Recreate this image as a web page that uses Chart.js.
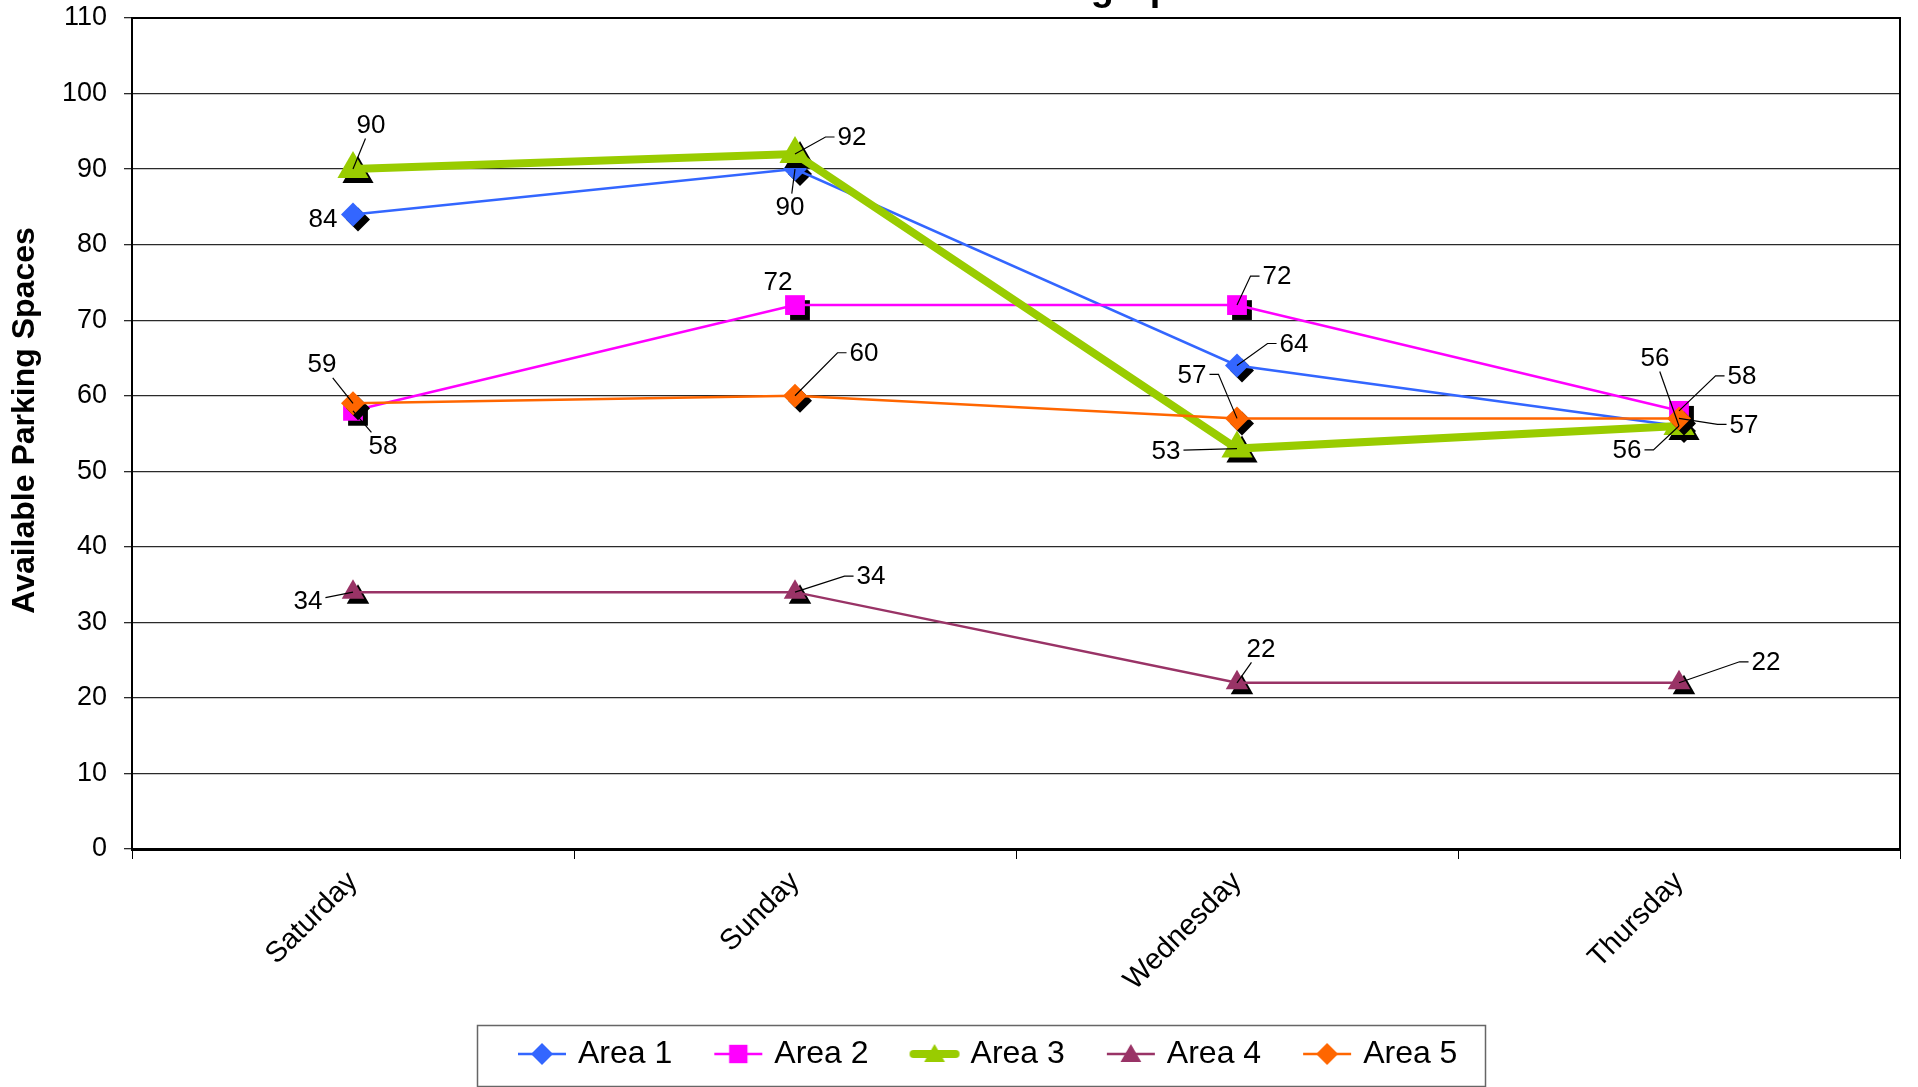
<!DOCTYPE html>
<html>
<head>
<meta charset="utf-8">
<script src="https://cdn.jsdelivr.net/npm/chart.js@4.4.1/dist/chart.umd.min.js"></script>
<style>
  html, body { margin: 0; padding: 0; background: #fff; overflow: hidden; }
  canvas { display: block; }
</style>
</head>
<body>
<canvas id="chart" width="1918" height="1087"></canvas>
<script>
// ---- data ----
const days = ['Saturday', 'Sunday', 'Wednesday', 'Thursday'];
const seriesNames = ['Area 1', 'Area 2', 'Area 3', 'Area 4', 'Area 5'];
const area1 = [84, 90, 64, 56];
const area2 = [58, 72, 72, 58];
const area3 = [90, 92, 53, 56];
const area4 = [34, 34, 22, 22];
const area5 = [59, 60, 57, 57];
const yMin = 0;
const yMax = 110;
const yStep = 10;
const chartTitle = 'Available Parking Spaces';
const yAxisTitle = 'Available Parking Spaces';

// ---- appearance ----
const FONT = '"Liberation Sans", Arial, Helvetica, sans-serif';
const seriesStyles = [
  { color: '#3366FF', width: 2.5, shape: 'rectRot',  radius: 12 },
  { color: '#FF00FF', width: 2.5, shape: 'rect',     radius: 14 },
  { color: '#99CC00', width: 8,   shape: 'triangle', radius: 18 },
  { color: '#993366', width: 2.5, shape: 'triangle', radius: 13 },
  { color: '#FF6600', width: 2.5, shape: 'rectRot',  radius: 12 }
];
// value label placement relative to its point: [dx, dy, leader]
// leader: 0 = none, 1 = straight line, 2 = line with a short horizontal stub
const labelPlacement = [
  [[-30, 4, 0],  [-5, 38, 1],  [57, -22, 2], [-24, -68, 1]],
  [[30, 35, 1],  [-17, -23, 0], [40, -29, 2], [63, -35, 2]],
  [[18, -44, 1], [57, -17, 2], [-71, 2, 1],  [-52, 24, 2]],
  [[-45, 9, 1],  [76, -16, 2], [24, -34, 1], [87, -21, 2]],
  [[-31, -39, 1], [69, -43, 2], [-45, -44, 2], [65, 6, 2]]
];
const SHADOW_DX = 5, SHADOW_DY = 5;
const Y_TITLE_SHIFT = 13;

const seriesValues = [area1, area2, area3, area4, area5];

// marker path used for drop shadows and legend samples
function markerPath(ctx, shape, x, y, r) {
  ctx.beginPath();
  if (shape === 'rectRot') {
    ctx.moveTo(x, y - r); ctx.lineTo(x + r, y); ctx.lineTo(x, y + r); ctx.lineTo(x - r, y);
  } else if (shape === 'rect') {
    const h = r * Math.SQRT1_2;
    ctx.rect(x - h, y - h, 2 * h, 2 * h);
  } else {
    const s = Math.sin(2 * Math.PI / 3) * r;
    ctx.moveTo(x, y - r); ctx.lineTo(x + s, y + r / 2); ctx.lineTo(x - s, y + r / 2);
  }
  ctx.closePath();
}

// legend sample: line segment with the series marker in the middle
function legendSample(st) {
  const c = document.createElement('canvas');
  c.width = 52; c.height = 36;
  const g = c.getContext('2d');
  g.strokeStyle = st.color;
  g.lineWidth = st.width;
  const thick = st.width > 4;
  g.lineCap = thick ? 'round' : 'butt';
  g.beginPath(); g.moveTo(thick ? 5 : 2, 18); g.lineTo(thick ? 47 : 50, 18); g.stroke();
  g.fillStyle = st.color;
  const r = st.shape === 'triangle' ? 12 : (st.shape === 'rect' ? 13 : 11);
  markerPath(g, st.shape, 26, st.shape === 'triangle' ? 20 : 18, r);
  g.fill();
  return c;
}
const legendSamples = seriesStyles.map(legendSample);

const datasets = seriesValues.map((vals, i) => ({
  label: seriesNames[i],
  data: vals,
  borderColor: seriesStyles[i].color,
  backgroundColor: seriesStyles[i].color,
  borderWidth: seriesStyles[i].width,
  pointStyle: seriesStyles[i].shape,
  pointRadius: seriesStyles[i].radius,
  pointBackgroundColor: seriesStyles[i].color,
  pointBorderColor: seriesStyles[i].color,
  pointBorderWidth: 0,
  tension: 0,
  fill: false,
  clip: false,
  order: seriesValues.length - i
}));

// black drop shadow under each marker
const markerShadows = {
  id: 'markerShadows',
  beforeDatasetDraw(chart, args) {
    const st = seriesStyles[args.index];
    const ctx = chart.ctx;
    ctx.save();
    ctx.fillStyle = '#000';
    args.meta.data.forEach(p => {
      markerPath(ctx, st.shape, p.x + SHADOW_DX, p.y + SHADOW_DY, st.radius);
      ctx.fill();
    });
    ctx.restore();
  }
};

// value labels with leader lines
const valueLabels = {
  id: 'valueLabels',
  afterDatasetsDraw(chart) {
    const ctx = chart.ctx;
    ctx.save();
    ctx.font = '26px ' + FONT;
    ctx.fillStyle = '#000';
    ctx.strokeStyle = '#000';
    ctx.lineWidth = 1.2;
    ctx.textAlign = 'center';
    ctx.textBaseline = 'middle';
    chart.data.datasets.forEach((ds, i) => {
      const meta = chart.getDatasetMeta(i);
      meta.data.forEach((p, j) => {
        const [dx, dy, lead] = labelPlacement[i][j];
        const text = String(ds.data[j]);
        const cx = p.x + dx, cy = p.y + dy;
        const w = ctx.measureText(text).width, h = 19;
        if (lead === 1) {
          const vx = p.x - cx, vy = p.y - cy;
          const tx = vx !== 0 ? (w / 2 + 3) / Math.abs(vx) : Infinity;
          const ty = vy !== 0 ? (h / 2 + 4) / Math.abs(vy) : Infinity;
          const t = Math.min(tx, ty);
          if (t < 1) {
            ctx.beginPath();
            ctx.moveTo(cx + vx * t, cy + vy * t);
            ctx.lineTo(p.x, p.y);
            ctx.stroke();
          }
        } else if (lead === 2) {
          const side = Math.sign(p.x - cx) || 1;
          const sx = cx + side * (w / 2 + 3);
          ctx.beginPath();
          ctx.moveTo(sx, cy);
          ctx.lineTo(sx + side * 9, cy);
          ctx.lineTo(p.x, p.y);
          ctx.stroke();
        }
        ctx.fillText(text, cx, cy + 1);
      });
    });
    ctx.restore();
  }
};

// plot frame, heading, legend frame and placement tweaks
const frame = {
  id: 'frame',
  afterLayout(chart) {
    const L = chart.legend;
    if (L && L.lineWidths) {
      const pad = L.options.labels.padding;
      const start = (L.left + pad + L.right - L.lineWidths[0]) / 2;
      const shift = 522 - start;
      L.left += shift; L.right += shift;
    }
    const ys = chart.scales.y;
    if (ys && !ys._titleShifted) {
      const drawTitle = ys.drawTitle;
      ys.drawTitle = function () {
        const t = this.top, b = this.bottom;
        this.top -= Y_TITLE_SHIFT; this.bottom -= Y_TITLE_SHIFT;
        drawTitle.call(this);
        this.top = t; this.bottom = b;
      };
      ys._titleShifted = true;
    }
  },
  beforeDatasetsDraw(chart) {
    const { ctx, chartArea: a } = chart;
    ctx.save();
    ctx.strokeStyle = '#000';
    ctx.lineWidth = 2;
    ctx.beginPath();
    ctx.moveTo(a.left, a.top); ctx.lineTo(a.right, a.top); ctx.lineTo(a.right, a.bottom);
    ctx.stroke();
    ctx.restore();
  },
  afterDraw(chart) {
    const ctx = chart.ctx;
    ctx.save();
    ctx.fillStyle = '#000';
    ctx.font = 'bold 38px ' + FONT;
    ctx.textAlign = 'center';
    ctx.textBaseline = 'alphabetic';
    ctx.fillText(chartTitle, 1028, 0);
    ctx.strokeStyle = '#666';
    ctx.lineWidth = 1.5;
    ctx.strokeRect(477.5, 1025.5, 1008, 61);
    ctx.restore();
  }
};

new Chart(document.getElementById('chart'), {
  type: 'line',
  data: { labels: days, datasets },
  plugins: [markerShadows, valueLabels, frame],
  options: {
    responsive: false,
    animation: false,
    devicePixelRatio: 1,
    layout: { padding: { top: 18, right: 12, left: 0, bottom: 7 } },
    plugins: {
      title: { display: false },
      tooltip: { enabled: false },
      legend: {
        position: 'bottom',
        labels: {
          usePointStyle: true,
          pointStyleWidth: 40,
          padding: 46,
          color: '#000',
          font: { family: FONT, size: 32 },
          sort: (a, b) => a.datasetIndex - b.datasetIndex,
          generateLabels(chart) {
            const items = Chart.defaults.plugins.legend.labels.generateLabels(chart);
            return items.map(it => Object.assign(it, { pointStyle: legendSamples[it.datasetIndex], rotation: 0 }));
          }
        }
      }
    },
    scales: {
      x: {
        type: 'category',
        offset: true,
        afterFit(scale) { scale.height = 143; },
        grid: { offset: true, drawOnChartArea: false, tickLength: 10, color: '#000', lineWidth: 1 },
        border: { display: true, color: '#000', width: 3 },
        ticks: {
          color: '#000',
          font: { family: FONT, size: 29 },
          minRotation: 45,
          maxRotation: 45,
          padding: 6,
          autoSkip: false
        }
      },
      y: {
        min: yMin,
        max: yMax,
        afterFit(scale) {
          scale.width = 132;
          scale.paddingTop = 0;
          scale.paddingBottom = 0;
        },
        grid: { color: '#2a2a2a', lineWidth: 1.3, tickLength: 8 },
        border: { display: true, color: '#000', width: 2 },
        ticks: {
          stepSize: yStep,
          color: '#000',
          padding: 17,
          font: { family: FONT, size: 27 }
        },
        title: {
          display: true,
          text: yAxisTitle,
          color: '#000',
          font: { family: FONT, size: 32, weight: 'bold' },
          padding: { top: 6, bottom: 0 }
        }
      }
    }
  }
});
</script>
</body>
</html>
